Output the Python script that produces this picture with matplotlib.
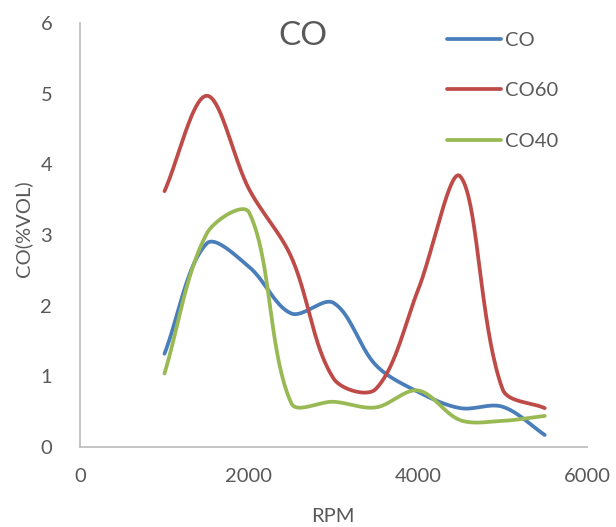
import matplotlib
matplotlib.use("Agg")
import matplotlib.pyplot as plt
import numpy as np

# values
rpm = [1000, 1500, 2000, 2500, 3000, 3500, 4000, 4500, 5000, 5500]
co = [1.32, 2.88, 2.55, 1.89, 2.04, 1.16, 0.78, 0.55, 0.57, 0.17]
co60 = [3.62, 4.97, 3.65, 2.69, 0.97, 0.82, 2.22, 3.83, 0.82, 0.55]
co40 = [1.04, 3.02, 3.32, 0.62, 0.64, 0.56, 0.80, 0.38, 0.37, 0.44]

series_names = ["CO", "CO60", "CO40"]
series_colors = ["#4A7EBB", "#BE4B48", "#98B954"]

TEXT = "#595959"
GRID = "#BFBFBF"

plt.rcParams['font.family'] = ['Lato', 'DejaVu Sans']


def excel_smooth(ax, xs, ys, n=40):
    # Excel-style smoothed line: bezier segments, control arms scaled by
    # chord lengths measured on screen
    pts = ax.transData.transform(np.column_stack([xs, ys]))
    out = []
    m = len(pts)
    for i in range(m - 1):
        p0 = pts[max(i - 1, 0)]
        p1 = pts[i]
        p2 = pts[i + 1]
        p3 = pts[min(i + 2, m - 1)]
        d01 = np.hypot(*(p1 - p0))
        d12 = np.hypot(*(p2 - p1))
        d23 = np.hypot(*(p3 - p2))
        f1 = d12 / (d01 + d12) / 3.0 if d01 + d12 > 0 else 0
        f2 = d12 / (d12 + d23) / 3.0 if d12 + d23 > 0 else 0
        b1 = p1 + (p2 - p0) * f1
        b2 = p2 - (p3 - p1) * f2
        t = np.linspace(0, 1, n)[:, None]
        seg = ((1 - t) ** 3) * p1 + 3 * ((1 - t) ** 2) * t * b1 \
            + 3 * (1 - t) * t ** 2 * b2 + t ** 3 * p2
        if i > 0:
            seg = seg[1:]
        out.append(seg)
    out = np.vstack(out)
    back = ax.transData.inverted().transform(out)
    return back[:, 0], back[:, 1]


fig = plt.figure(figsize=(6.16, 5.27), dpi=100)
ax = fig.add_axes([80/616, 1 - 447/527, (587 - 80)/616, (447 - 23)/527])
ax.set_xlim(0, 6000)
ax.set_ylim(0, 6)
ax.set_xticks([0, 2000, 4000, 6000])
ax.set_yticks([0, 1, 2, 3, 4, 5, 6])

for s in ["top", "right"]:
    ax.spines[s].set_visible(False)
for s in ["left", "bottom"]:
    ax.spines[s].set_color(GRID)
    ax.spines[s].set_linewidth(1.3)
ax.tick_params(axis='both', length=0, labelsize=14.5, labelcolor=TEXT)
ax.tick_params(axis='x', pad=15)
ax.tick_params(axis='y', pad=20)

for vals, name, col in zip([co, co60, co40], series_names, series_colors):
    sx, sy = excel_smooth(ax, rpm, vals)
    ax.plot(sx, sy, color=col, lw=2.7, label=name,
            solid_capstyle='round', clip_on=False)

ax.legend(loc='upper left', bbox_to_anchor=(447/616, 1 - 32/527),
          bbox_transform=fig.transFigure, frameon=False, fontsize=14.5,
          labelcolor=TEXT, handlelength=2.7, handletextpad=0.2,
          labelspacing=1.65, borderpad=0, borderaxespad=0)

fig.text(303/616, 1 - 36/527, "CO", ha='center', va='center',
         fontsize=24, color=TEXT)
fig.text(333/616, 1 - 517/527, "RPM", ha='center', va='center',
         fontsize=14.5, color=TEXT)
fig.text(23/616, 1 - 229/527, "CO(%VOL)", ha='center', va='center',
         rotation=90, fontsize=14.5, color=TEXT)

fig.savefig("out.png", dpi=100)
